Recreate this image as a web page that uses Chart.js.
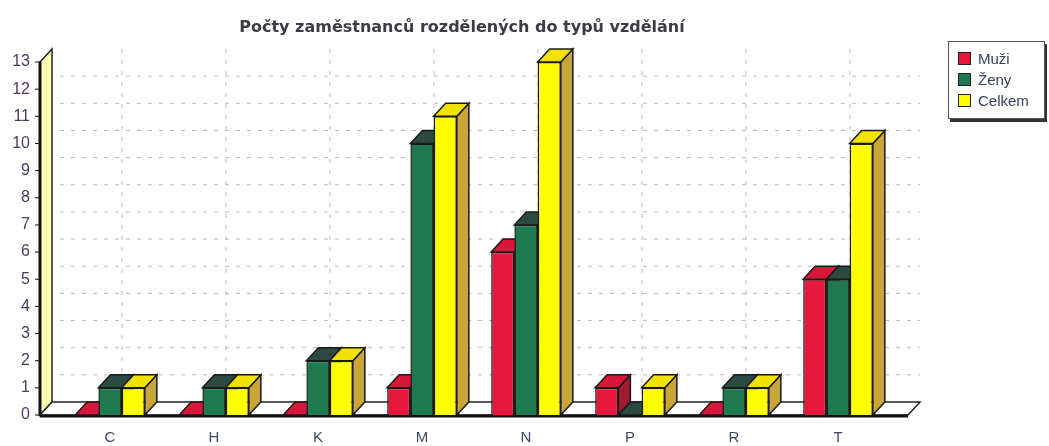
<!DOCTYPE html>
<html>
<head>
<meta charset="utf-8">
<script src="https://cdn.jsdelivr.net/npm/chart.js@4"></script>
<style>
  body { margin: 0; background: #fff; }
  #wrap { position: relative; width: 1049px; height: 446px; }
  #legend {
    position: absolute; left: 948px; top: 41px; width: 95px; height: 76px;
    border: 1px solid #555; box-shadow: 2px 3px 0 #333; background: #fff;
    font: 15px "Liberation Sans", Arial, sans-serif; color: #3a4060;
  }
  #legend div { display: flex; align-items: center; height: 21px; margin-left: 9px; }
  #legend div:first-child { margin-top: 6px; }
  #legend span.sw { width: 13px; height: 13px; border: 1px solid #222; margin-right: 7px; box-sizing: border-box; }
</style>
</head>
<body>
<div id="wrap">
  <canvas id="chart" width="1049" height="446"></canvas>
  <div id="legend"></div>
</div>
<script>
const categories = ['C', 'H', 'K', 'M', 'N', 'P', 'R', 'T'];
const seriesNames = ['Muži', 'Ženy', 'Celkem'];
const muzi = [0, 0, 0, 1, 6, 1, 0, 5];
const zeny = [1, 1, 2, 10, 7, 0, 1, 5];
const celkem = [1, 1, 2, 11, 13, 1, 1, 10];
const yTicks = [0, 1, 2, 3, 4, 5, 6, 7, 8, 9, 10, 11, 12, 13];

const fronts = ['#e8173e', '#1e7a4e', '#ffff00'];
const tops = ['#d8163a', '#2c4a42', '#f2e200'];
const sides = ['#a01a34', '#1a5038', '#c9a63c'];
const dx = 12, dy = 13;

// legend as plain html
const legendEl = document.getElementById('legend');
seriesNames.forEach((name, i) => {
    legendEl.innerHTML += `<div><span class="sw" style="background:${fronts[i]}"></span>${name}</div>`;
});

function poly(ctx, pts, fill, stroke, lw) {
    ctx.beginPath();
    ctx.moveTo(pts[0][0], pts[0][1]);
    pts.slice(1).forEach(p => ctx.lineTo(p[0], p[1]));
    ctx.closePath();
    if (fill) { ctx.fillStyle = fill; ctx.fill(); }
    if (stroke) { ctx.strokeStyle = stroke; ctx.lineWidth = lw || 1; ctx.stroke(); }
}

// walls, floor, grid and the 3d faces of the bars
const threeD = {
    id: 'threeD',
    beforeDatasetsDraw(chart) {
        const { ctx, chartArea: a, scales: { x, y } } = chart;
        const base = y.getPixelForValue(0);
        const top = y.getPixelForValue(yTicks[yTicks.length - 1]);
        const wl = a.left - 18, wr = a.right + 18;
        ctx.save();

        // dashed grid on the back
        ctx.setLineDash([4, 7]);
        ctx.strokeStyle = '#b8b8c8';
        ctx.lineWidth = 1;
        yTicks.forEach(v => {
            if (v === 0 || v === yTicks[yTicks.length - 1]) return;
            const py = y.getPixelForValue(v) - dy;
            ctx.beginPath(); ctx.moveTo(wl + dx + 8, py); ctx.lineTo(wr + dx, py); ctx.stroke();
        });
        categories.forEach((c, i) => {
            const px = x.getPixelForTick(i) + dx;
            ctx.beginPath(); ctx.moveTo(px, top - dy); ctx.lineTo(px, base - dy); ctx.stroke();
        });
        ctx.setLineDash([]);

        // left wall
        poly(ctx, [[wl, base], [wl, top], [wl + dx, top - dy], [wl + dx, base - dy]], '#ffffb4', '#222', 1.5);
        ctx.strokeStyle = '#111'; ctx.lineWidth = 3;
        ctx.beginPath(); ctx.moveTo(wl, top); ctx.lineTo(wl, base + 1); ctx.stroke();
        // small ticks on the axis
        ctx.lineWidth = 1;
        yTicks.forEach(v => {
            const py = y.getPixelForValue(v);
            ctx.beginPath(); ctx.moveTo(wl - 5, py); ctx.lineTo(wl, py); ctx.stroke();
        });

        // floor
        poly(ctx, [[wl, base], [wl + dx, base - dy], [wr + dx, base - dy], [wr, base]], '#fff', '#222', 1.5);
        ctx.strokeStyle = '#111'; ctx.lineWidth = 3;
        ctx.beginPath(); ctx.moveTo(wl, base + 1); ctx.lineTo(wr, base + 1); ctx.stroke();

        // bar side + top faces
        categories.forEach((c, i) => {
            chart.data.datasets.forEach((ds, di) => {
                const bar = chart.getDatasetMeta(di).data[i];
                const p = bar.getProps(['x', 'y', 'base', 'width'], true);
                const l = p.x - p.width / 2, r = p.x + p.width / 2;
                poly(ctx, [[r, p.y], [r + dx, p.y - dy], [r + dx, p.base - dy], [r, p.base]], sides[di], '#1a1a1a', 1.5);
                poly(ctx, [[l, p.y], [l + dx, p.y - dy], [r + dx, p.y - dy], [r, p.y]], tops[di], '#1a1a1a', 1.5);
            });
        });
        ctx.restore();
    },
    afterDraw(chart) {
        const { ctx } = chart;
        ctx.save();
        ctx.font = 'bold 16px "DejaVu Sans", sans-serif';
        ctx.fillStyle = '#3c3c46';
        ctx.textAlign = 'center';
        ctx.textBaseline = 'middle';
        ctx.fillText('Počty zaměstnanců rozdělených do typů vzdělání', 462, 28);
        ctx.restore();
    }
};

const datasets = [muzi, zeny, celkem].map((vals, i) => ({
    label: seriesNames[i],
    data: vals,
    backgroundColor: fronts[i],
    borderColor: '#1a1a1a',
    borderWidth: 1.5,
    borderSkipped: 'start',
    categoryPercentage: 0.67,
    barPercentage: 1.0
}));

new Chart(document.getElementById('chart'), {
    type: 'bar',
    data: { labels: categories, datasets: datasets },
    options: {
        responsive: false,
        animation: false,
        layout: { padding: { left: 0, right: 159, top: 62, bottom: 0 } },
        plugins: {
            legend: { display: false },
            title: { display: false },
            tooltip: { enabled: false }
        },
        scales: {
            x: {
                grid: { display: false, drawTicks: false },
                border: { display: false },
                ticks: { color: '#3a4868', font: { family: 'Liberation Sans', size: 15 }, padding: 14 },
                afterFit: s => { s.height = 31; s.paddingLeft = 0; s.paddingRight = 0; }
            },
            y: {
                min: 0,
                max: 13,
                afterBuildTicks: s => { s.ticks = yTicks.map(v => ({ value: v })); },
                grid: { display: false, drawTicks: false },
                border: { display: false },
                ticks: { color: '#4b3a5e', font: { family: 'Liberation Sans', size: 16 }, padding: 28 },
                afterFit: s => { s.width = 58; s.paddingTop = 0; s.paddingBottom = 0; }
            }
        }
    },
    plugins: [threeD]
});
</script>
</body>
</html>
